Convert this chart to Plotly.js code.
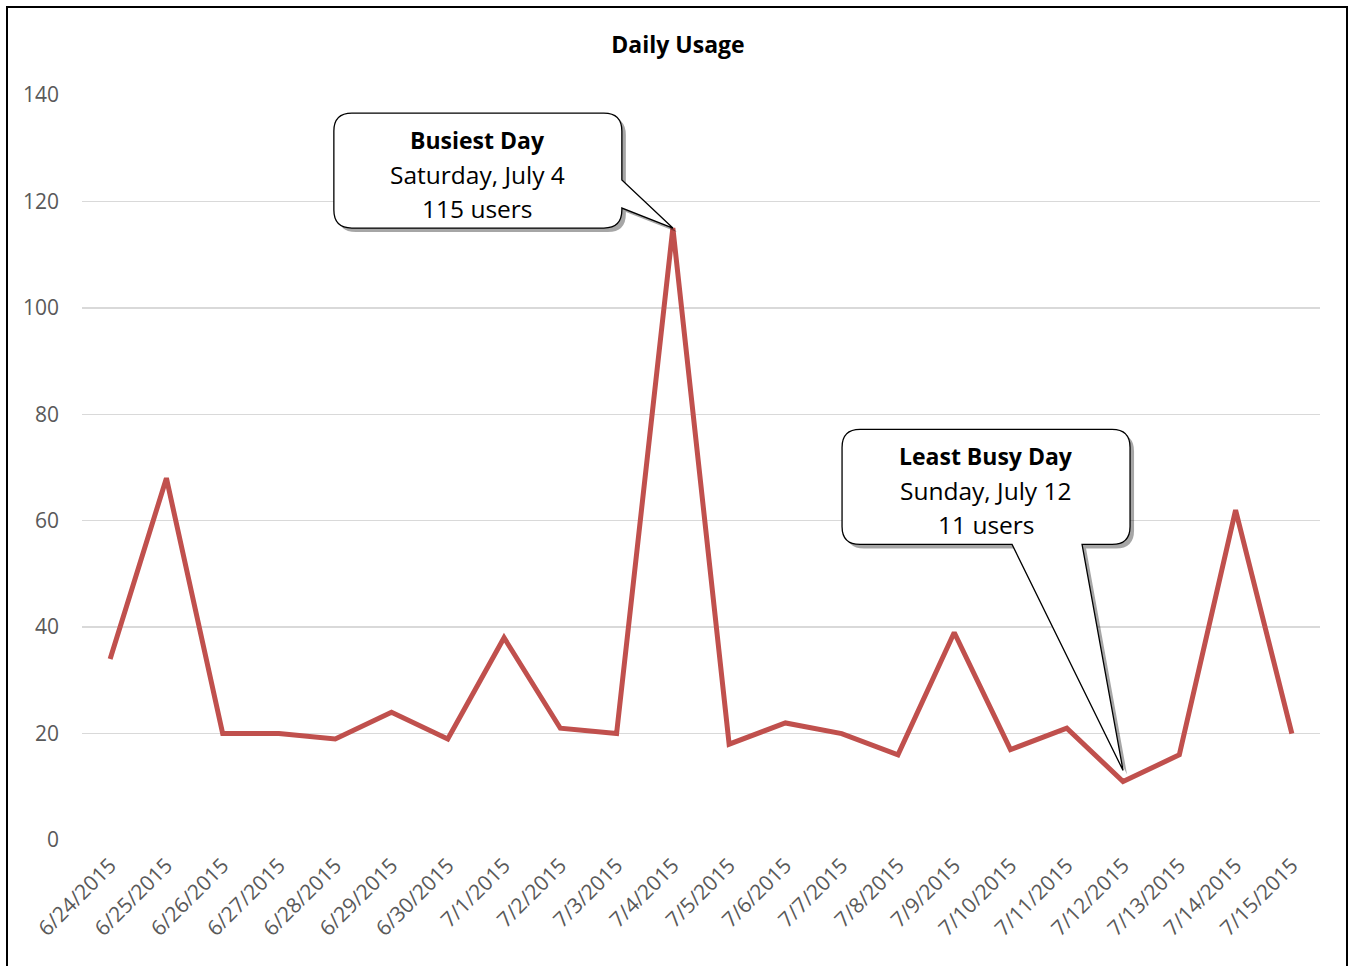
<!DOCTYPE html>
<html>
<head>
<meta charset="utf-8">
<script src="https://cdn.plot.ly/plotly-3.0.1.min.js"></script>
<style>
  html, body { margin: 0; padding: 0; background: #fff; overflow: hidden; }
  #chart { width: 1352px; height: 966px; }
  #frame { position: absolute; left: 6px; top: 6px; width: 1338px; height: 1000px; border: 2px solid #000; pointer-events: none; }
</style>
</head>
<body>
<div id="chart"></div>
<div id="frame"></div>
<script>
const dates = ["6/24/2015","6/25/2015","6/26/2015","6/27/2015","6/28/2015","6/29/2015","6/30/2015",
  "7/1/2015","7/2/2015","7/3/2015","7/4/2015","7/5/2015","7/6/2015","7/7/2015","7/8/2015",
  "7/9/2015","7/10/2015","7/11/2015","7/12/2015","7/13/2015","7/14/2015","7/15/2015"];
const users = [34, 68, 20, 20, 19, 24, 19, 38, 21, 20, 115, 18, 22, 20, 16, 39, 17, 21, 11, 16, 62, 20];
const yTicks = [0, 20, 40, 60, 80, 100, 120, 140];
const busiestText = ["<b>Busiest Day</b>", "Saturday, July 4", "115 users"];
const leastText = ["<b>Least Busy Day</b>", "Sunday, July 12", "11 users"];

const FONT = "'Open Sans', Lato, sans-serif";

const maxIdx = users.indexOf(Math.max(...users));
const minIdx = users.indexOf(Math.min(...users));

function callout1(dx, dy) {
  const L = -339 + dx, R = -51 + dx, T = 115 + dy, B = 0 + dy, r = 18;
  return `M ${L + r},${T} L ${R - r},${T} Q ${R},${T} ${R},${T - r} L ${R},${48 + dy} L ${0 + dx},${0 + dy} L ${R},${20 + dy} L ${R},${B + r} Q ${R},${B} ${R - r},${B} L ${L + r},${B} Q ${L},${B} ${L},${B + r} L ${L},${T - r} Q ${L},${T} ${L + r},${T} Z`;
}
function callout2(dx, dy) {
  const L = -281 + dx, R = 7 + dx, T = 352 + dy, B = 237 + dy, r = 18;
  return `M ${L + r},${T} L ${R - r},${T} Q ${R},${T} ${R},${T - r} L ${R},${B + r} Q ${R},${B} ${R - r},${B} L ${-41 + dx},${B} L ${0 + dx},${11 + dy} L ${-111 + dx},${B} L ${L + r},${B} Q ${L},${B} ${L},${B + r} L ${L},${T - r} Q ${L},${T} ${L + r},${T} Z`;
}

function shapeAt(idx, path, fill, line) {
  return {
    type: 'path', xref: 'x', yref: 'y', xsizemode: 'pixel', ysizemode: 'pixel',
    xanchor: dates[idx], yanchor: users[idx], path: path,
    fillcolor: fill, line: line, layer: 'above'
  };
}

const shapes = [
  shapeAt(maxIdx, callout1(4, -4), 'rgba(0,0,0,0.35)', {width: 0}),
  shapeAt(maxIdx, callout1(0, 0), '#ffffff', {color: '#000', width: 1.3}),
  shapeAt(minIdx, callout2(4, -4), 'rgba(0,0,0,0.35)', {width: 0}),
  shapeAt(minIdx, callout2(0, 0), '#ffffff', {color: '#000', width: 1.3})
];

const annotations = [];
const lineShift1 = [88, 54, 20];
busiestText.forEach((t, i) => annotations.push({
  x: dates[maxIdx], y: users[maxIdx], xref: 'x', yref: 'y', text: t, showarrow: false,
  xshift: -195, yshift: lineShift1[i], xanchor: 'center', yanchor: 'middle',
  font: {family: FONT, size: i === 0 ? 23 : 24.5, color: '#000'}
}));
const lineShift2 = [325, 291, 257];
leastText.forEach((t, i) => annotations.push({
  x: dates[minIdx], y: users[minIdx], xref: 'x', yref: 'y', text: t, showarrow: false,
  xshift: -137, yshift: lineShift2[i], xanchor: 'center', yanchor: 'middle',
  font: {family: FONT, size: i === 0 ? 23 : 24.5, color: '#000'}
}));

const trace = {
  x: dates, y: users, type: 'scatter', mode: 'lines',
  line: {color: '#C0504D', width: 5, shape: 'linear'},
  hoverinfo: 'x+y'
};

const layout = {
  width: 1352, height: 966,
  margin: {l: 82, r: 32, t: 95, b: 126},
  paper_bgcolor: '#fff', plot_bgcolor: '#fff',
  showlegend: false,
  title: {text: '<b>Daily Usage</b>', x: 678 / 1352, xref: 'container', xanchor: 'center',
          y: 1 - 45 / 966, yref: 'container', yanchor: 'middle',
          font: {family: FONT, size: 23, color: '#000'}},
  xaxis: {type: 'category', range: [-0.5, 21.5], showgrid: false, zeroline: false, showline: false,
          ticks: '', tickangle: -45, ticklabelstandoff: 8,
          tickfont: {family: FONT, size: 21, color: '#595959'}},
  yaxis: {range: [0, 140], tickvals: yTicks, showgrid: true, gridcolor: '#D9D9D9', gridwidth: 1.3,
          zeroline: false, showline: false, ticks: '', ticklabelstandoff: 22,
          tickfont: {family: FONT, size: 21, color: '#595959'}},
  shapes: shapes,
  annotations: annotations
};

Plotly.newPlot('chart', [trace], layout, {displayModeBar: false, staticPlot: true});
</script>
</body>
</html>
